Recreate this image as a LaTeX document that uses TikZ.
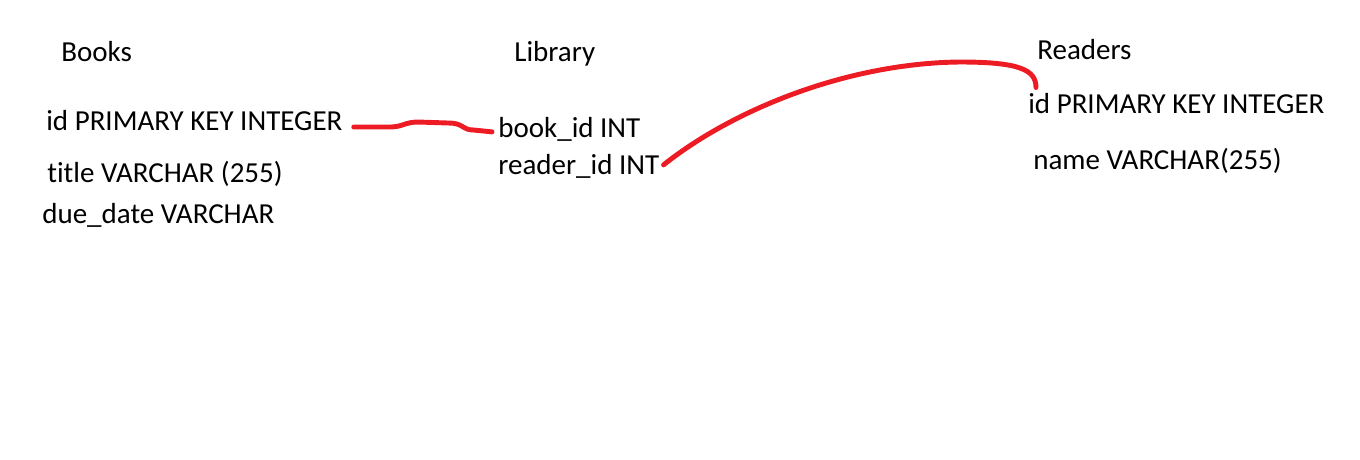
\documentclass[tikz,border=0pt]{standalone}
\usepackage{fontspec}
\setmainfont{Carlito}[Ligatures=NoCommon]
\usepackage{tikz}
\usetikzlibrary{positioning,calc}
\usepackage{xcolor}
\definecolor{pen}{HTML}{ED1C24}

\begin{document}
\begin{tikzpicture}[x=0.02cm, y=-0.02cm,
    field/.style={anchor=base west, inner sep=0pt, font=\fontsize{16.5}{19}\selectfont},
    link/.style={draw=pen, line width=2.8pt, line cap=round, line join=round}]
  \useasboundingbox (0,0) rectangle (1360,460);

  % Books
  \node[field] (books) at (61,61) {Books};
  \node[field] (bpk) at (46,130) {id PRIMARY KEY INTEGER};
  \node[field] (btitle) at (47,182) {title VARCHAR (255)};
  \node[field] (bdue) at (42,223) {due\_date VARCHAR};

  % Library
  \node[field] (library) at (514,61) {Library};
  \node[field] (bid) at (498,137) {book\_id INT};
  \node[field] (rid) at (498,174) {reader\_id INT};

  % Readers
  \node[field] (readers) at (1037,59) {Readers};
  \node[field] (rpk) at (1028,113) {id PRIMARY KEY INTEGER};
  \node[field] (rname) at (1033,169) {name VARCHAR(255)};

  \draw[link] ($(bpk.east)+(11,7)$) -- ++(35,0)
    .. controls +(15,0) and +(-15,0) .. ++(30,-5) -- ++(30,1)
    .. controls +(15,0) and +(-12,0) .. ++(25,7) -- ($(bid.west)+(-6,3)$);
  \draw[link] ($(rid.east)+(4,-1)$) .. controls (735,108) and (850,63) .. (960,62)
    .. controls (1020,62) and (1036,70) .. ($(rpk.north west)+(8,-5)$);
\end{tikzpicture}
\end{document}
